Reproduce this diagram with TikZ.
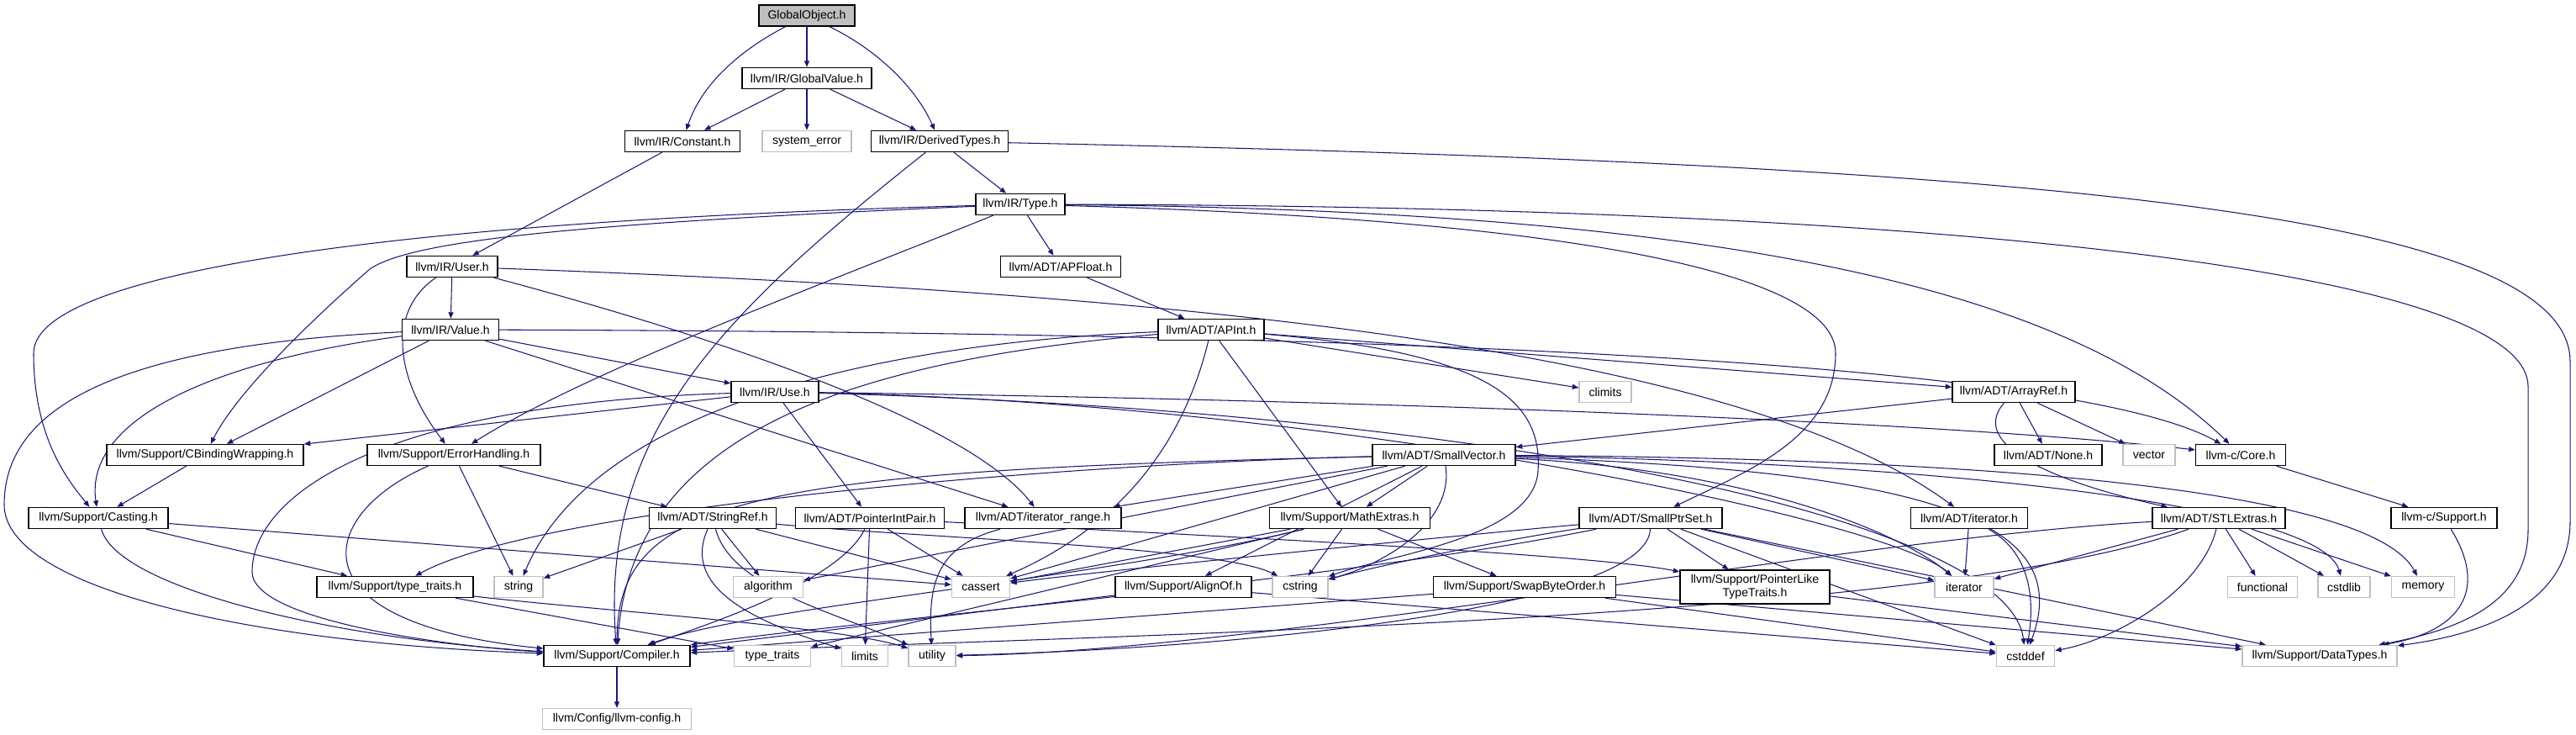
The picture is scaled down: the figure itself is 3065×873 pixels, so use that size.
\documentclass[tikz,border=0pt]{standalone}
\usepackage{fontspec}
\setmainfont{Liberation Sans}
\usetikzlibrary{arrows.meta,backgrounds}
\definecolor{edgeblue}{HTML}{191970}
\definecolor{boxgrey}{HTML}{BFBFBF}

\begin{document}
\begin{tikzpicture}[x=0.02cm, y=-0.02cm,
  hdr/.style ={draw=black, line width=0.8pt, fill=white, font=\fontsize{8}{9.5}\selectfont,
               inner xsep=1pt, inner ysep=0pt, minimum height=0.5cm},
  sys/.style ={hdr, draw=boxgrey},
  root/.style={hdr, fill=boxgrey},
  wd/.style  ={minimum width=#1*0.02cm},
  dep/.style ={draw=edgeblue, line width=0.6pt, -{Triangle[length=0.15cm,width=0.12cm]}}]

  \useasboundingbox (0,0) rectangle (3065,873);

  % ---------------- rows 1-3 ----------------
  \node[root,wd=114] (globalobject) at (960,18.5) {GlobalObject.h};
  \node[hdr,wd=154] (globalvalue) at (960,93) {llvm/IR/GlobalValue.h};
  \node[hdr,wd=137] (constant) at (812,168) {llvm/IR/Constant.h};
  \node[sys,wd=106] (syserr) at (960,168) {system\_error};
  \node[hdr,wd=163] (derivedtypes) at (1118,168) {llvm/IR/DerivedTypes.h};

  % ---------------- rows 4-6 ----------------
  \node[hdr,wd=106] (type) at (1214,243) {llvm/IR/Type.h};
  \node[hdr,wd=108] (user) at (538,317) {llvm/IR/User.h};
  \node[hdr,wd=143] (apfloat) at (1262,317) {llvm/ADT/APFloat.h};
  \node[hdr,wd=115] (value) at (536,392) {llvm/IR/Value.h};
  \node[hdr,wd=126] (apint) at (1441,392) {llvm/ADT/APInt.h};
  \node[hdr,wd=104] (use) at (922,466) {llvm/IR/Use.h};
  \node[sys,wd=62]  (climits) at (1910,466) {climits};
  \node[hdr,wd=146] (arrayref) at (2396,466) {llvm/ADT/ArrayRef.h};

  % ---------------- row 7 ----------------
  \node[hdr,wd=234] (cbinding) at (244,541) {llvm/Support/CBindingWrapping.h};
  \node[hdr,wd=206] (errorhandling) at (540,541) {llvm/Support/ErrorHandling.h};
  \node[hdr,wd=170] (smallvector) at (1718,541) {llvm/ADT/SmallVector.h};
  \node[hdr,wd=128] (none) at (2437,541) {llvm/ADT/None.h};
  \node[sys,wd=62]  (vector) at (2557,541) {vector};
  \node[hdr,wd=107] (core) at (2666,541) {llvm-c/Core.h};

  % ---------------- row 8 ----------------
  \node[hdr,wd=166] (casting) at (117,616) {llvm/Support/Casting.h};
  \node[hdr,wd=151] (stringref) at (848,616) {llvm/ADT/StringRef.h};
  \node[hdr,wd=177] (pointerintpair) at (1035,616) {llvm/ADT/PointerIntPair.h};
  \node[hdr,wd=186] (iterrange) at (1241,616) {llvm/ADT/iterator\_range.h};
  \node[hdr,wd=191] (mathextras) at (1606,616) {llvm/Support/MathExtras.h};
  \node[hdr,wd=170] (smallptrset) at (1964,616) {llvm/ADT/SmallPtrSet.h};
  \node[hdr,wd=139] (iteratorh) at (2343,616) {llvm/ADT/iterator.h};
  \node[hdr,wd=158] (stlextras) at (2640,616) {llvm/ADT/STLExtras.h};
  \node[hdr,wd=126] (csupport) at (2908,616) {llvm-c/Support.h};

  % ---------------- row 9 ----------------
  \node[hdr,wd=186] (typetraitsh) at (470,698) {llvm/Support/type\_traits.h};
  \node[sys,wd=58]  (string) at (617,698) {string};
  \node[sys,wd=83]  (algorithm) at (914,698) {algorithm};
  \node[sys,wd=69]  (cassert) at (1167,698) {cassert};
  \node[hdr,wd=162] (alignof) at (1408,698) {llvm/Support/AlignOf.h};
  \node[sys,wd=66]  (cstring) at (1547,698) {cstring};
  \node[hdr,wd=217] (swapbyteorder) at (1814,698) {llvm/Support/SwapByteOrder.h};
  \node[hdr,wd=178,minimum height=0.8cm,align=center] (ptrliketraits) at (2088,698)
       {llvm/Support/PointerLike\\TypeTraits.h};
  \node[sys,wd=70]  (iterator) at (2337,698) {iterator};
  \node[sys,wd=83]  (functional) at (2692,698) {functional};
  \node[sys,wd=62]  (cstdlib) at (2789,698) {cstdlib};
  \node[sys,wd=75]  (memory) at (2883,698) {memory};

  % ---------------- rows 10-11 ----------------
  \node[hdr,wd=174] (compiler) at (734,780) {llvm/Support/Compiler.h};
  \node[sys,wd=91]  (typetraits) at (919,780) {type\_traits};
  \node[sys,wd=55]  (limits) at (1029,780) {limits};
  \node[sys,wd=56]  (utility) at (1109,780) {utility};
  \node[sys,wd=69]  (cstddef) at (2410,780) {cstddef};
  \node[sys,wd=184] (datatypes) at (2760,780) {llvm/Support/DataTypes.h};
  \node[sys,wd=177] (llvmconfig) at (734,855) {llvm/Config/llvm-config.h};

  \begin{scope}[on background layer]
  % ---------------- GlobalObject / GlobalValue ----------------
  \draw[dep] (globalobject) .. controls (880,60) and (835,100) .. (constant);
  \draw[dep] (globalobject) -- (globalvalue);
  \draw[dep] (globalobject) .. controls (1045,60) and (1090,105) .. (derivedtypes);
  \draw[dep] (globalvalue) -- (constant);
  \draw[dep] (globalvalue) -- (syserr);
  \draw[dep] (globalvalue) -- (derivedtypes);
  \draw[dep] (constant) -- (user);

  % ---------------- DerivedTypes / Type ----------------
  \draw[dep] (derivedtypes) -- (type);
  \draw[dep] (derivedtypes) .. controls (850,380) and (715,520) .. (compiler);
  \draw[dep] (derivedtypes) .. controls (2400,195) and (3058,250) .. (3058,430) -- (3058,620)
             .. controls (3058,720) and (2950,755) .. (datatypes);
  \draw[dep] (type) -- (apfloat);
  \draw[dep] (type) .. controls (2000,250) and (2450,330) .. (core);
  \draw[dep] (type) .. controls (2300,245) and (3008,320) .. (3008,460) -- (3008,630)
             .. controls (3008,720) and (2920,750) .. (datatypes);
  \draw[dep] (type) .. controls (1900,262) and (2184,330) .. (2184,420)
             .. controls (2184,520) and (2080,560) .. (smallptrset);
  \draw[dep] (type) .. controls (700,265) and (490,285) .. (440,320)
             .. controls (360,390) and (280,470) .. (cbinding);
  \draw[dep] (type) .. controls (500,262) and (40,320) .. (40,420)
             .. controls (40,520) and (80,570) .. (casting);
  \draw[dep] (type) .. controls (1000,330) and (700,440) .. (errorhandling);

  % ---------------- User / Value / Use ----------------
  \draw[dep] (user) -- (value);
  \draw[dep] (user) .. controls (460,370) and (470,450) .. (errorhandling);
  \draw[dep] (user) .. controls (1300,345) and (2050,400) .. (iteratorh);
  \draw[dep] (user) .. controls (850,400) and (1150,500) .. (iterrange);
  \draw[dep] (value) .. controls (1500,395) and (2450,420) .. (core);
  \draw[dep] (value) -- (use);
  \draw[dep] (value) -- (cbinding);
  \draw[dep] (value) .. controls (250,430) and (100,500) .. (casting);
  \draw[dep] (value) .. controls (150,410) and (5,480) .. (5,600)
             .. controls (5,700) and (300,765) .. (compiler);
  \draw[dep] (value) -- (iterrange);
  \draw[dep] (use) .. controls (1600,475) and (2300,500) .. (core);
  \draw[dep] (use) -- (pointerintpair);
  \draw[dep] (use) -- (cbinding);
  \draw[dep] (use) .. controls (450,480) and (300,590) .. (300,680)
             .. controls (300,740) and (550,770) .. (compiler);
  \draw[dep] (use) .. controls (1800,490) and (2390,620) .. (cstddef);
  \draw[dep] (use) .. controls (1600,480) and (2250,620) .. (iterator);

  % ---------------- APFloat / APInt / ArrayRef ----------------
  \draw[dep] (apfloat) -- (apint);
  \draw[dep] (apint) -- (arrayref);
  \draw[dep] (apint) -- (climits);
  \draw[dep] (apint) -- (mathextras);
  \draw[dep] (apint) .. controls (1400,560) and (1300,640) .. (cassert);
  \draw[dep] (apint) .. controls (1780,420) and (1835,480) .. (1830,560)
             .. controls (1825,640) and (1650,660) .. (cstring);
  \draw[dep] (apint) .. controls (1000,410) and (700,500) .. (string);
  \draw[dep] (apint) .. controls (1000,430) and (750,520) .. (compiler);
  \draw[dep] (arrayref) -- (none);
  \draw[dep] (arrayref) -- (vector);
  \draw[dep] (arrayref) -- (smallvector);
  \draw[dep] (arrayref) .. controls (2340,530) and (2450,575) .. (stlextras);

  % ---------------- SmallVector ----------------
  \draw[dep] (smallvector) -- (iterrange);
  \draw[dep] (smallvector) -- (alignof);
  \draw[dep] (smallvector) -- (mathextras);
  \draw[dep] (smallvector) .. controls (1300,550) and (650,600) .. (typetraitsh);
  \draw[dep] (smallvector) .. controls (900,560) and (735,590) .. (compiler);
  \draw[dep] (smallvector) -- (algorithm);
  \draw[dep] (smallvector) -- (cassert);
  \draw[dep] (smallvector) .. controls (1730,620) and (1650,670) .. (cstring);
  \draw[dep] (smallvector) .. controls (2300,560) and (2470,620) .. (cstddef);
  \draw[dep] (smallvector) .. controls (2100,560) and (2270,640) .. (iterator);
  \draw[dep] (smallvector) .. controls (2300,550) and (2760,600) .. (cstdlib);
  \draw[dep] (smallvector) .. controls (2350,545) and (2820,580) .. (memory);

  % ---------------- MathExtras / SmallPtrSet ----------------
  \draw[dep] (mathextras) -- (swapbyteorder);
  \draw[dep] (mathextras) -- (cstring);
  \draw[dep] (mathextras) -- (cassert);
  \draw[dep] (mathextras) .. controls (1300,690) and (900,720) .. (compiler);
  \draw[dep] (mathextras) -- (typetraits);
  \draw[dep] (smallptrset) -- (ptrliketraits);
  \draw[dep] (smallptrset) .. controls (1700,640) and (1300,680) .. (cassert);
  \draw[dep] (smallptrset) .. controls (1800,640) and (1650,670) .. (cstring);
  \draw[dep] (smallptrset) .. controls (1960,720) and (1500,770) .. (utility);
  \draw[dep] (smallptrset) .. controls (1600,690) and (1000,740) .. (compiler);
  \draw[dep] (smallptrset) -- (datatypes);
  \draw[dep] (smallptrset) -- (iterator);
  \draw[dep] (smallptrset) -- (cstddef);
  \draw[dep] (ptrliketraits) -- (datatypes);

  % ---------------- PointerIntPair / StringRef / ErrorHandling ----------------
  \draw[dep] (pointerintpair) .. controls (1500,640) and (1900,660) .. (ptrliketraits);
  \draw[dep] (pointerintpair) .. controls (1000,690) and (850,740) .. (compiler);
  \draw[dep] (pointerintpair) -- (limits);
  \draw[dep] (pointerintpair) -- (cassert);
  \draw[dep] (stringref) -- (string);
  \draw[dep] (stringref) -- (algorithm);
  \draw[dep] (stringref) -- (cassert);
  \draw[dep] (stringref) .. controls (1100,640) and (1450,650) .. (cstring);
  \draw[dep] (stringref) .. controls (810,700) and (900,740) .. (limits);
  \draw[dep] (stringref) .. controls (870,700) and (1000,730) .. (utility);
  \draw[dep] (errorhandling) -- (stringref);
  \draw[dep] (errorhandling) -- (string);
  \draw[dep] (errorhandling) .. controls (380,610) and (340,740) .. (compiler);

  % ---------------- Casting / type_traits / small headers ----------------
  \draw[dep] (cbinding) -- (casting);
  \draw[dep] (casting) -- (typetraitsh);
  \draw[dep] (casting) -- (cassert);
  \draw[dep] (casting) .. controls (140,700) and (400,760) .. (compiler);
  \draw[dep] (typetraitsh) -- (typetraits);
  \draw[dep] (typetraitsh) .. controls (700,725) and (1000,745) .. (utility);
  \draw[dep] (iterrange) .. controls (1110,650) and (1105,700) .. (utility);
  \draw[dep] (iteratorh) -- (iterator);
  \draw[dep] (iteratorh) .. controls (2420,660) and (2420,720) .. (cstddef);
  \draw[dep] (stlextras) -- (iterator);
  \draw[dep] (stlextras) .. controls (2620,700) and (2520,760) .. (cstddef);
  \draw[dep] (stlextras) -- (functional);
  \draw[dep] (stlextras) -- (cstdlib);
  \draw[dep] (stlextras) -- (memory);
  \draw[dep] (stlextras) .. controls (2200,640) and (1500,775) .. (utility);
  \draw[dep] (stlextras) .. controls (2300,740) and (1300,755) .. (compiler);
  \draw[dep] (alignof) -- (compiler);
  \draw[dep] (alignof) -- (cstddef);
  \draw[dep] (swapbyteorder) -- (compiler);
  \draw[dep] (swapbyteorder) -- (datatypes);
  \draw[dep] (swapbyteorder) -- (cstddef);
  \draw[dep] (compiler) -- (llvmconfig);
  \draw[dep] (core) -- (csupport);
  \draw[dep] (csupport) .. controls (2960,700) and (2930,750) .. (datatypes);
  \end{scope}
\end{tikzpicture}
\end{document}
